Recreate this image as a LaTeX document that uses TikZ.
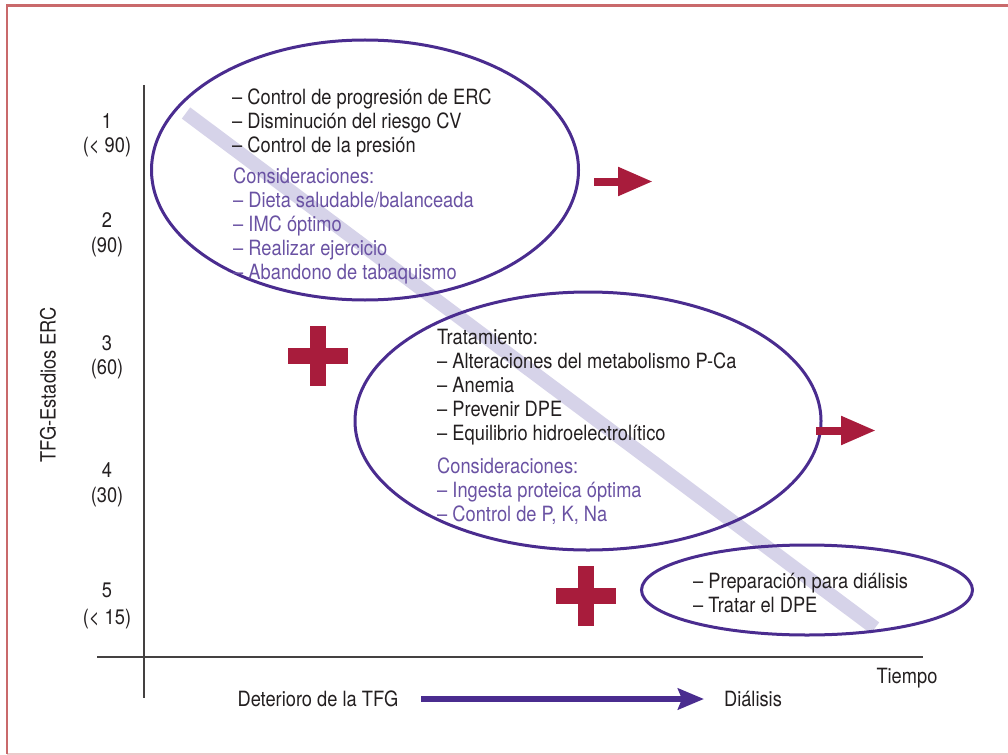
\documentclass[tikz,border=0pt]{standalone}
\usepackage{fontspec}
\setmainfont{TeX Gyre Heros}[FakeStretch=0.87]
\usetikzlibrary{arrows.meta,shapes.geometric}
\definecolor{blk}{HTML}{231F20}
\definecolor{ptxt}{HTML}{6A52A3}
\definecolor{pline}{HTML}{4A2C8F}
\definecolor{rd}{HTML}{A81C3C}
\definecolor{band}{HTML}{D6D3E9}
\definecolor{frame}{HTML}{C9696B}
\begin{document}
\begin{tikzpicture}[x=1pt,y=-1pt,
  txt/.style={anchor=base west,inner sep=0,font=\fontsize{21}{24}\selectfont,text=blk},
  ptx/.style={txt,text=ptxt},
  lab/.style={anchor=base,inner sep=0,font=\fontsize{21}{24}\selectfont,text=blk},
  oval/.style={draw=pline,line width=3,ellipse,inner sep=0},
  redarrow/.style={draw=rd,line width=8,-{Triangle[length=35pt,width=27pt]}},
  plus/.style={fill=rd},
  axis/.style={draw=blk!85,line width=1.5}]
\useasboundingbox (0,0) rectangle (1008,754);
% frame
\coordinate (ftr) at (1008,5.3);
\coordinate (ftl) at (6.8,5.3);
\coordinate (fbl) at (6.8,753.8);
\coordinate (fbr) at (1008,753.8);
\draw[frame!35,line width=1.5] (fbl) -- (fbr);
\draw[frame,line width=2.5] (ftr) -- (ftl) -- (fbl);
% axes
\coordinate (yt) at (144,85);
\coordinate (yb) at (144,698);
\coordinate (xl) at (97,657);
\coordinate (xr) at (923,657);
\draw[axis] (yt) -- (yb);
\draw[axis] (xl) -- (xr);
% diagonal band
\coordinate (bs) at (186,113);
\coordinate (be) at (875,628);
\draw[band,line width=14] (bs) -- (be);
% ellipses
\node[oval,minimum width=427,minimum height=260] (e1) at (365,170) {};
\node[oval,minimum width=466,minimum height=258] (e2) at (588,421) {};
\node[oval,minimum width=331,minimum height=90] (e3) at (807,590) {};
% block 1
\foreach \t [count=\i] in {– Control de progresión de ERC,– Disminución del riesgo CV,– Control de la presión}
  \node[txt] (a\i) at (232,{105+24*(\i-1)}) {\t};
\foreach \t [count=\i] in {Consideraciones:,– Dieta saludable/balanceada,– IMC óptimo,– Realizar ejercicio,– Abandono de tabaquismo}
  \node[ptx] (ap\i) at (233,{183+24*(\i-1)}) {\t};
% block 2
\foreach \t [count=\i] in {Tratamiento:,– Alteraciones del metabolismo P-Ca,– Anemia,– Prevenir DPE,– Equilibrio hidroelectrolítico}
  \node[txt] (b\i) at (437,{344+24.2*(\i-1)}) {\t};
\foreach \t [count=\i] in {Consideraciones:,– Ingesta proteica óptima,{– Control de P, K, Na}}
  \node[ptx] (bp\i) at (437,{473+24*(\i-1)}) {\t};
% block 3
\foreach \t [count=\i] in {– Preparación para diálisis,– Tratar el DPE}
  \node[txt] (c\i) at (693,{588+24*(\i-1)}) {\t};
% y labels
\node[lab] (y1) at (107,129) {1};
\node[lab] (y1b) at (107,153) {(< 90)};
\node[lab] (y2) at (107,227) {2};
\node[lab] (y2b) at (107,252) {(90)};
\node[lab] (y3) at (107,350) {3};
\node[lab] (y3b) at (107,374) {(60)};
\node[lab] (y4) at (107,477) {4};
\node[lab] (y4b) at (107,502) {(30)};
\node[lab] (y5) at (107,597) {5};
\node[lab] (y5b) at (107,624) {(< 15)};
\node[inner sep=0,font=\fontsize{21}{24}\selectfont,text=blk,rotate=90] (ylab) at (48,385) {TFG-Estadios ERC};
% x labels
\node[lab] (tiempo) at (907,683) {Tiempo};
\node[lab] (det) at (318,706) {Deterioro de la TFG};
\node[lab] (dial) at (753,706) {Diálisis};
\coordinate (bas) at (421,699);
\coordinate (bae) at (704,699);
\draw[pline,line width=5.5,-{Stealth[length=26pt,width=21pt,inset=4pt]}] (bas) -- (bae);
% red arrows
\coordinate (r1s) at (594,181.5);
\coordinate (r1e) at (653,181.5);
\draw[redarrow] (r1s) -- (r1e);
\coordinate (r2s) at (816,430.5);
\coordinate (r2e) at (876,430.5);
\draw[redarrow] (r2s) -- (r2e);
% plus signs
\fill[plus] (310,326) rectangle (326,386);
\fill[plus] (288,348) rectangle (348,364);
\fill[plus] (578,566) rectangle (594,626);
\fill[plus] (556,588) rectangle (616,604);
\end{tikzpicture}
\end{document}
